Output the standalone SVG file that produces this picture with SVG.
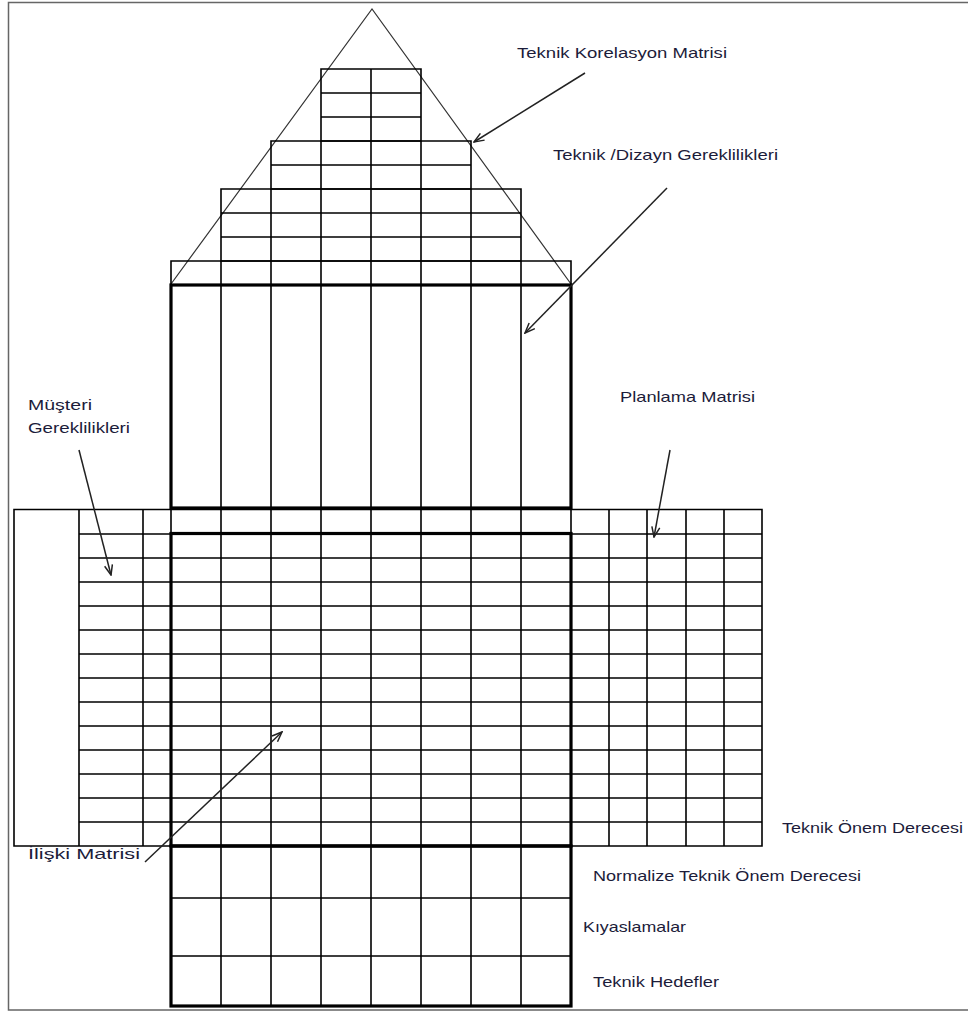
<svg xmlns="http://www.w3.org/2000/svg" width="968" height="1014" viewBox="0 0 968 1014">
<defs>
<style>
.t{stroke:#000;stroke-width:1.6;fill:none}
.k{stroke:#000;stroke-width:3.2;fill:none}
.tri{stroke:#333;stroke-width:1.2;fill:none}
.fr{stroke:#666;stroke-width:1.5;fill:none}
.ar{stroke:#222;stroke-width:1.5;fill:none;marker-end:url(#ah)}
text{font-family:"Liberation Sans",Arial,sans-serif;font-size:15px;fill:#1c1c3a}
</style>
<marker id="ah" viewBox="0 0 12 10" refX="11" refY="5" markerWidth="12" markerHeight="10" markerUnits="userSpaceOnUse" orient="auto">
<path d="M1,1 L11,5 L1,9" fill="none" stroke="#222" stroke-width="1.5"/>
</marker>
</defs>
<rect width="968" height="1014" fill="#fff"/>
<g id="frame">
<path class="fr" d="M968,2.5 H8.5 V1010 H968"/>
</g>
<g id="correlation-roof">
<polyline class="tri" points="171,284 372,9 571,284"/>
<path class="t" d="M321,69 H421 V141 H321 Z M321,93 H421 M321,117 H421 M371,69 V141"/>
<path class="t" d="M271,141 H471 V189 H271 Z M271,165 H471 M321,141 V189 M371,141 V189 M421,141 V189"/>
<path class="t" d="M221,189 H521 V261 H221 Z M221,213 H521 M221,237 H521 M271,189 V261 M321,189 V261 M371,189 V261 M421,189 V261 M471,189 V261"/>
<path class="t" d="M171,261 H571 V285 H171 Z M221,261 V285 M271,261 V285 M321,261 V285 M371,261 V285 M421,261 V285 M471,261 V285 M521,261 V285"/>
</g>
<g id="technical-requirements">
<path class="t" d="M221,285 V508 M271,285 V508 M321,285 V508 M371,285 V508 M421,285 V508 M471,285 V508 M521,285 V508"/>
<rect class="k" x="171" y="285" width="400" height="223"/>
</g>
<g id="middle-grid">
<path class="t" d="M14,509.5 H762 V846 H14 Z M79,510 V846 M143,510 V846 M171,509 V534 M571,509 V534 M609,510 V846 M647,510 V846 M686,510 V846 M724,510 V846"/>
<path class="t" d="M221,508 V846 M271,508 V846 M321,508 V846 M371,508 V846 M421,508 V846 M471,508 V846 M521,508 V846"/>
<path class="t" d="M79,534 H762 M79,558 H762 M79,582 H762 M79,606 H762 M79,630 H762 M79,654 H762 M79,678 H762 M79,702 H762 M79,726 H762 M79,750 H762 M79,774 H762 M79,798 H762 M79,822 H762"/>
<rect class="k" x="171" y="533.5" width="400" height="312.5"/>
</g>
<g id="bottom-grid">
<path class="t" d="M171,898 H571 M171,956 H571 M221,846 V1006 M271,846 V1006 M321,846 V1006 M371,846 V1006 M421,846 V1006 M471,846 V1006 M521,846 V1006"/>
<rect class="k" x="171" y="846" width="400" height="160"/>
</g>
<g id="connectors">
<line class="ar" x1="585" y1="73" x2="474" y2="142"/>
<line class="ar" x1="667" y1="188" x2="525" y2="333"/>
<line class="ar" x1="670" y1="450" x2="654" y2="537"/>
<line class="ar" x1="79" y1="450" x2="111" y2="575"/>
<line class="ar" x1="145" y1="862" x2="282" y2="732"/>
</g>
<g id="labels">
<text x="517" y="58" textLength="210" lengthAdjust="spacingAndGlyphs">Teknik Korelasyon Matrisi</text>
<text x="553" y="160" textLength="225" lengthAdjust="spacingAndGlyphs">Teknik /Dizayn Gereklilikleri</text>
<text x="620" y="402" textLength="135" lengthAdjust="spacingAndGlyphs">Planlama Matrisi</text>
<text x="28" y="410" textLength="64" lengthAdjust="spacingAndGlyphs">Müşteri</text>
<text x="28" y="433" textLength="102" lengthAdjust="spacingAndGlyphs">Gereklilikleri</text>
<text x="28" y="859" textLength="112" lengthAdjust="spacingAndGlyphs">İlişki Matrisi</text>
<text x="782" y="833" textLength="181" lengthAdjust="spacingAndGlyphs">Teknik Önem Derecesi</text>
<text x="593" y="881" textLength="268" lengthAdjust="spacingAndGlyphs">Normalize Teknik Önem Derecesi</text>
<text x="583" y="932" textLength="103" lengthAdjust="spacingAndGlyphs">Kıyaslamalar</text>
<text x="593" y="987" textLength="126" lengthAdjust="spacingAndGlyphs">Teknik Hedefler</text>
</g>
</svg>
